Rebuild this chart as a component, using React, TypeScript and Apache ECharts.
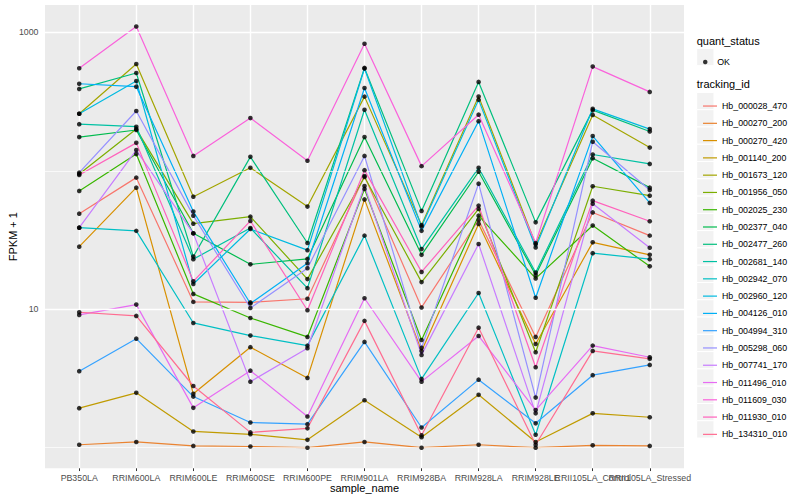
import React, { useEffect, useRef } from 'react';
import * as echarts from 'echarts';

const FONT = '"Liberation Sans", Arial, Helvetica, sans-serif';

const categories = [
  'PB350LA', 'RRIM600LA', 'RRIM600LE', 'RRIM600SE', 'RRIM600PE', 'RRIM901LA',
  'RRIM928BA', 'RRIM928LA', 'RRIM928LE', 'RRII105LA_Control', 'RRII105LA_Stressed',
];

const trackingIds = [
  'Hb_000028_470', 'Hb_000270_200', 'Hb_000270_420', 'Hb_001140_200', 'Hb_001673_120',
  'Hb_001956_050', 'Hb_002025_230', 'Hb_002377_040', 'Hb_002477_260', 'Hb_002681_140',
  'Hb_002942_070', 'Hb_002960_120', 'Hb_004126_010', 'Hb_004994_310', 'Hb_005298_060',
  'Hb_007741_170', 'Hb_011496_010', 'Hb_011609_030', 'Hb_011930_010', 'Hb_134310_010',
];

const colors = [
  '#F8766D', '#EA8331', '#D89000', '#C09B00', '#A3A500', '#7CAE00', '#39B600', '#00BB4E',
  '#00BF7D', '#00C1A3', '#00BFC4', '#00BAE0', '#00B0F6', '#35A2FF', '#9590FF', '#C77CFF',
  '#E76BF3', '#FA62DB', '#FF62BC', '#FF6C91',
];

// FPKM + 1 per sample, in category order
const hb_000028_470 = [49.0, 89.2, 11.3, 11.2, 11.9, 91.7, 10.3, 44.1, 6.31, 50.0, 34.0];
const hb_000270_200 = [1.05, 1.10, 1.03, 1.02, 1.00, 1.10, 1.00, 1.05, 1.00, 1.04, 1.03];
const hb_000270_420 = [28.3, 75.5, 2.45, 5.32, 3.19, 62.1, 5.00, 41.3, 5.61, 30.4, 24.7];
const hb_001140_200 = [1.93, 2.49, 1.31, 1.25, 1.14, 2.20, 1.19, 2.41, 1.10, 1.77, 1.66];
const hb_001673_120 = [258, 590, 65.0, 105, 55.1, 343, 40.6, 344, 29.4, 253, 147];
const hb_001956_050 = [94.8, 200, 41.5, 46.6, 16.5, 90.2, 15.7, 53.0, 4.89, 77.3, 66.1];
const hb_002025_230 = [71.5, 132, 12.9, 8.65, 6.31, 73.9, 6.00, 47.4, 16.7, 40.2, 20.4];
const hb_002377_040 = [175, 197, 35.4, 21.1, 23.1, 175, 24.7, 98.4, 17.7, 123, 75.5];
const hb_002477_260 = [390, 508, 24.0, 126, 30.1, 553, 51.3, 438, 42.4, 274, 192];
const hb_002681_140 = [217, 208, 23.0, 38.6, 14.2, 276, 27.2, 105, 18.4, 131, 112];
const hb_002942_070 = [38.8, 36.8, 7.96, 6.45, 5.46, 34.0, 3.14, 13.1, 1.24, 25.4, 23.0];
const hb_002960_120 = [258, 445, 15.2, 38.0, 26.7, 548, 39.5, 325, 27.9, 280, 200];
const hb_004126_010 = [425, 405, 50.7, 11.0, 21.5, 396, 36.8, 228, 12.1, 178, 58.6];
const hb_004994_310 = [3.57, 6.13, 2.34, 1.52, 1.48, 5.81, 1.40, 3.10, 1.50, 3.34, 3.96];
const hb_005298_060 = [96.9, 270, 47.4, 10.2, 19.8, 128, 5.26, 80.7, 2.30, 162, 72.7];
const hb_007741_170 = [38.8, 141, 35.3, 3.00, 5.23, 77.6, 4.68, 29.6, 1.77, 57.8, 27.8];
const hb_011496_010 = [9.10, 10.8, 1.94, 3.60, 1.68, 12.0, 3.00, 6.41, 1.87, 5.46, 4.50];
const hb_011609_030 = [550, 1101, 128, 240, 118, 827, 108, 254, 30.1, 565, 371];
const hb_011930_010 = [93.3, 159, 15.9, 43.4, 9.84, 101, 18.6, 56.0, 3.81, 60.8, 43.2];
const hb_134310_010 = [9.51, 8.95, 2.79, 1.29, 1.38, 8.24, 1.23, 7.36, 1.05, 5.00, 4.38];

const seriesValues = [
  hb_000028_470, hb_000270_200, hb_000270_420, hb_001140_200, hb_001673_120,
  hb_001956_050, hb_002025_230, hb_002377_040, hb_002477_260, hb_002681_140,
  hb_002942_070, hb_002960_120, hb_004126_010, hb_004994_310, hb_005298_060,
  hb_007741_170, hb_011496_010, hb_011609_030, hb_011930_010, hb_134310_010,
];

const yLabelValues = [10, 1000];
const majorGridValues = [10, 1000];
const minorGridValues = [1, 100];
const statusLevels = ['OK'];

// category labels are split over three label-only axes so that ECharts does not
// drop the overlapping ones (the reference shows them overlapping)
const labelGroups = [
  [0, 1, 2, 3, 4, 5, 6, 7, 8],
  [9],
  [10],
];

const KEY_X = 696.7;
const KEY_SIZE = 17.28;
const OK_TOP = 48.4;
const IDS_TOP = 92.4;

export default function App() {
  const ref = useRef<HTMLDivElement>(null);

  useEffect(() => {
    if (!ref.current) return;
    const chart = echarts.init(ref.current, null, { renderer: 'svg' });

    const lineSeries = trackingIds.map((id, k) => ({
      name: id,
      type: 'line',
      data: seriesValues[k].map((v, i) => [i, v]),
      symbol: 'none',
      showSymbol: false,
      color: colors[k],
      itemStyle: { color: colors[k] },
      lineStyle: { color: colors[k], width: 1.2 },
      z: 2,
      silent: true,
    }));

    const points: number[][] = [];
    seriesValues.forEach((vals) => vals.forEach((v, i) => points.push([i, v])));

    const keyRects: any[] = [];
    keyRects.push({
      type: 'rect',
      shape: { x: KEY_X, y: OK_TOP, width: KEY_SIZE, height: KEY_SIZE },
      style: { fill: '#F2F2F2', stroke: '#FFFFFF', lineWidth: 1 },
      z: 0,
    });
    trackingIds.forEach((_, i) => {
      keyRects.push({
        type: 'rect',
        shape: { x: KEY_X, y: IDS_TOP + i * KEY_SIZE, width: KEY_SIZE, height: KEY_SIZE },
        style: { fill: '#F2F2F2', stroke: '#FFFFFF', lineWidth: 1 },
        z: 0,
      });
    });

    const labelStyle = {
      formatter: (v: number) => categories[Math.round(v)] ?? '',
      fontSize: 8.8,
      color: '#4D4D4D',
      margin: 5,
      hideOverlap: false,
      showMinLabel: true,
      showMaxLabel: true,
      fontFamily: FONT,
    };

    const xAxes = labelGroups.map((group, g) => ({
      type: 'value',
      min: -0.6,
      max: 10.6,
      position: 'bottom',
      offset: 0,
      name: g === 0 ? 'sample_name' : '',
      nameLocation: 'middle',
      nameGap: 14.5,
      nameMoveOverlap: false,
      nameTextStyle: { fontSize: 11, color: '#000000', fontFamily: FONT },
      axisLine: { show: false, onZero: false },
      axisTick: {
        show: g === 0,
        length: 2.75,
        lineStyle: { color: '#333333', width: 1 },
        customValues: g === 0 ? categories.map((_, i) => i) : group,
      },
      axisLabel: { ...labelStyle, customValues: group },
      splitLine: { show: g === 0, lineStyle: { color: '#FFFFFF', width: 1.4 } },
    }));

    const option: any = {
      animation: false,
      backgroundColor: '#FFFFFF',
      textStyle: { fontFamily: FONT },
      grid: {
        left: 45,
        right: 116,
        top: 5,
        bottom: 31.7,
        show: true,
        backgroundColor: '#EBEBEB',
        borderWidth: 0,
        containLabel: false,
        outerBoundsMode: 'none',
      },
      xAxis: xAxes,
      yAxis: {
        type: 'log',
        logBase: 10,
        min: 0.71,
        max: 1574,
        name: 'FPKM + 1',
        nameLocation: 'middle',
        nameGap: 27,
        nameMoveOverlap: false,
        nameRotate: 90,
        nameTextStyle: { fontSize: 11, color: '#000000', fontFamily: FONT },
        axisLine: { show: false },
        axisTick: {
          show: true,
          length: 2.75,
          lineStyle: { color: '#333333', width: 1 },
          customValues: yLabelValues,
        },
        axisLabel: {
          customValues: yLabelValues,
          formatter: (v: number) => {
            const hit = yLabelValues.find((t) => Math.abs(Math.log10(v) - Math.log10(t)) < 1e-6);
            return hit !== undefined ? String(hit) : '';
          },
          fontSize: 8.8,
          color: '#4D4D4D',
          margin: 6.5,
          fontFamily: FONT,
        },
        splitLine: { show: false },
      },
      legend: [
        {
          data: statusLevels,
          orient: 'vertical',
          left: 698,
          top: OK_TOP,
          icon: 'circle',
          itemWidth: 14,
          itemHeight: 4.5,
          itemGap: 0,
          selectedMode: false,
          textStyle: { fontSize: 8.8, color: '#000000', lineHeight: KEY_SIZE, fontFamily: FONT },
        },
        {
          data: trackingIds,
          orient: 'vertical',
          left: 698,
          top: IDS_TOP,
          icon: 'rect',
          itemWidth: 14,
          itemHeight: 1.2,
          itemGap: 0,
          selectedMode: false,
          textStyle: { fontSize: 8.8, color: '#000000', lineHeight: KEY_SIZE, fontFamily: FONT },
        },
      ],
      graphic: [
        ...keyRects,
        {
          type: 'text',
          left: KEY_X,
          top: 35,
          style: { text: 'quant_status', fontSize: 11, fill: '#000000', fontFamily: FONT },
          z: 1,
        },
        {
          type: 'text',
          left: KEY_X,
          top: 78.3,
          style: { text: 'tracking_id', fontSize: 11, fill: '#000000', fontFamily: FONT },
          z: 1,
        },
      ],
      series: [
        {
          name: 'minorGrid',
          type: 'line',
          data: [],
          z: 1,
          silent: true,
          markLine: {
            silent: true,
            symbol: 'none',
            label: { show: false },
            lineStyle: { color: '#FFFFFF', width: 0.7, type: 'solid' },
            data: minorGridValues.map((v) => ({ yAxis: v })),
          },
        },
        {
          name: 'majorGrid',
          type: 'line',
          data: [],
          z: 1,
          silent: true,
          markLine: {
            silent: true,
            symbol: 'none',
            label: { show: false },
            lineStyle: { color: '#FFFFFF', width: 1.4, type: 'solid' },
            data: majorGridValues.map((v) => ({ yAxis: v })),
          },
        },
        ...lineSeries,
        {
          name: 'OK',
          type: 'scatter',
          data: points,
          symbol: 'circle',
          symbolSize: 4.6,
          itemStyle: { color: '#000000' },
          color: '#000000',
          z: 5,
          silent: true,
        },
      ],
    };

    chart.setOption(option);
    return () => chart.dispose();
  }, []);

  return (
    <div
      ref={ref}
      style={{ position: 'absolute', left: 0, top: 0, width: 800, height: 500 }}
    />
  );
}
